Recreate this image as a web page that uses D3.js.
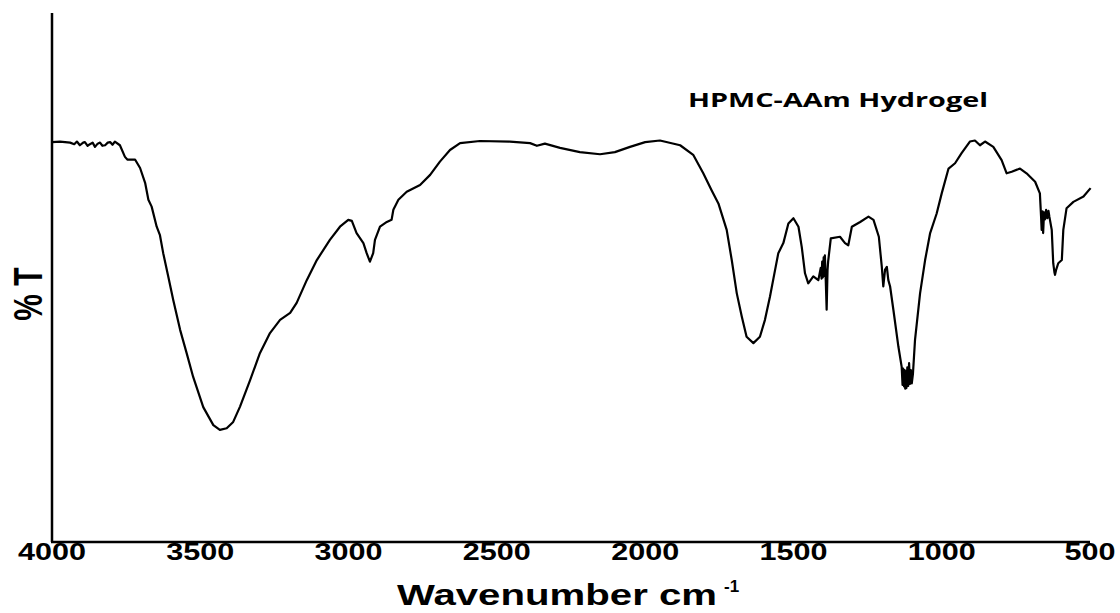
<!DOCTYPE html>
<html>
<head>
<meta charset="utf-8">
<script src="https://cdn.jsdelivr.net/npm/d3@7"></script>
<style>
  body { margin: 0; background: #fff; }
  svg { display: block; }
  .tick-label { font-family: "Liberation Sans", Arial, sans-serif; font-weight: bold; font-size: 23px; fill: #000; }
  .axis-title { font-family: "Liberation Sans", Arial, sans-serif; font-weight: bold; font-size: 30px; fill: #000; }
  .series-label { font-family: "Open Sans", sans-serif; font-weight: bold; font-size: 20px; fill: #000; }
</style>
</head>
<body>
<div id="chart"></div>
<script>
const width = 1120, height = 613;
const margin = { left: 52, right: 30, top: 13, bottom: 71 };

const seriesName = "HPMC-AAm Hydrogel";
const xTicks = [4000, 3500, 3000, 2500, 2000, 1500, 1000, 500];

// wavenumber (cm-1) and transmittance (%T, arbitrary scale)
const wavenumber = [
  4000, 3973, 3939, 3925, 3916, 3906, 3895, 3889, 3880, 3872, 3863, 3855, 3846, 3838, 3830, 3821,
  3812, 3804, 3796, 3788, 3771, 3754, 3746, 3720,
  3703, 3686, 3675, 3664, 3647, 3636, 3625, 3608, 3591, 3568, 3546, 3524, 3490, 3456, 3434, 3411,
  3389, 3366, 3332, 3299, 3265, 3231, 3197, 3175, 3141, 3107, 3063, 3029, 3001, 2989, 2973, 2950,
  2939, 2928, 2917, 2911, 2894, 2871, 2855, 2849, 2832, 2804, 2759, 2725, 2692, 2658, 2624, 2557,
  2456, 2388, 2365, 2338, 2287, 2220, 2152, 2102, 2051, 2000, 1950, 1882, 1838, 1804, 1776, 1753,
  1725, 1708, 1691, 1674, 1658, 1635, 1613, 1596, 1579, 1562, 1551, 1534, 1517, 1500, 1483, 1472,
  1461, 1450, 1433, 1416, 1408, 1405, 1403, 1401, 1398, 1396, 1394, 1391, 1388, 1385, 1383, 1374,
  1343, 1326, 1315, 1303, 1275, 1247,
  1230, 1212, 1202, 1197, 1191, 1185, 1180, 1174, 1163, 1146, 1135, 1132, 1130, 1127, 1125, 1123,
  1121, 1119, 1116, 1113, 1110, 1107, 1104, 1101, 1097, 1090,
  1073, 1056, 1039, 1017, 1000, 977, 955, 933, 905, 888, 871, 854, 826, 798, 781, 764,
  736, 714, 685, 669, 665, 663, 660, 658, 655, 652, 648, 644, 640, 637, 629, 624,
  620, 618, 614, 607, 595, 590, 579, 556,
  522, 498
];
const transmittance = [
  75.6, 75.7, 75.5, 75.2, 75.7, 75.0, 75.5, 75.6, 74.9, 75.2, 75.5, 74.7, 75.3, 75.5, 74.9, 75.0,
  75.5, 75.6, 75.1, 75.7, 75.0, 72.8, 72.3, 72.3,
  70.7, 67.9, 64.7, 63.4, 59.6, 58.0, 54.6, 50.2, 45.7, 40.1, 35.7, 31.2, 25.5, 22.1, 21.2, 21.5,
  22.7, 25.6, 30.6, 35.7, 39.5, 42.0, 43.3, 45.2, 49.5, 53.3, 57.1, 59.6, 60.9, 60.7, 58.4, 56.5,
  54.6, 53.0, 54.6, 57.1, 59.6, 60.5, 60.9, 62.8, 64.7, 66.2, 67.5, 69.4, 71.9, 74.1, 75.4, 75.8,
  75.7, 75.4, 74.9, 75.3, 74.5, 73.7, 73.3, 73.7, 74.7, 75.6, 75.9, 75.0, 73.2, 69.7, 66.5, 64.0,
  59.0, 53.3, 47.0, 42.6, 38.8, 37.6, 38.8, 42.0, 46.4, 51.4, 54.6, 56.5, 60.2, 61.2, 59.6, 55.8,
  50.8, 48.9, 50.2, 49.5, 51.8, 49.8, 53.0, 50.0, 53.8, 50.3, 54.2, 49.5, 43.9, 51.4, 53.0, 57.4,
  57.7, 56.5, 56.1, 59.6, 60.5, 61.5,
  60.9, 57.7, 52.0, 48.3, 51.5, 52.0, 49.5, 48.3, 43.9, 36.9, 33.1, 29.7, 32.8, 29.4, 32.5, 29.0,
  32.2, 29.1, 33.0, 29.5, 33.8, 29.9, 32.5, 30.0, 31.8, 38.2,
  47.0, 53.3, 58.4, 62.1, 65.9, 70.6, 71.6, 73.5, 75.7, 75.9, 75.0, 75.7, 74.7, 72.2, 69.7, 70.0,
  70.6, 69.7, 68.1, 65.9, 61.5, 59.0, 62.5, 58.4, 62.3, 61.0, 62.8, 61.2, 62.6, 61.5, 59.0, 52.7,
  51.0, 50.5, 51.5, 52.7, 53.3, 59.0, 63.1, 64.3,
  65.3, 66.9
];

const data = wavenumber.map((w, i) => ({ w, t: transmittance[i] }));

const xScale = d3.scaleLinear().domain([4000, 500]).range([margin.left, width - margin.right]);
const yScale = d3.scaleLinear().domain([0, 100]).range([height - margin.bottom, margin.top]);

const svg = d3.select("#chart")
  .append("svg")
  .attr("width", width)
  .attr("height", height)
  .attr("viewBox", `0 0 ${width} ${height}`);

const baseY = height - margin.bottom;

// axes lines
svg.append("line")
  .attr("x1", margin.left).attr("x2", margin.left)
  .attr("y1", margin.top).attr("y2", baseY)
  .attr("stroke", "#000").attr("stroke-width", 2.5);

svg.append("line")
  .attr("x1", margin.left - 1).attr("x2", width - margin.right)
  .attr("y1", baseY).attr("y2", baseY)
  .attr("stroke", "#000").attr("stroke-width", 2.5);

// tick labels (stretched like the source)
svg.selectAll(".tick-label")
  .data(xTicks)
  .join("text")
  .attr("class", "tick-label")
  .attr("text-anchor", "middle")
  .attr("x", d => xScale(d))
  .attr("y", baseY + 18)
  .attr("textLength", d => String(d).length * 17)
  .attr("lengthAdjust", "spacingAndGlyphs")
  .text(d => d);

// spectrum
const line = d3.line()
  .x(d => xScale(d.w))
  .y(d => yScale(d.t));

svg.append("path")
  .datum(data)
  .attr("fill", "none")
  .attr("stroke", "#000")
  .attr("stroke-width", 2.2)
  .attr("stroke-linejoin", "round")
  .attr("d", line);

// series label
svg.append("text")
  .attr("class", "series-label")
  .attr("x", 688)
  .attr("y", 107)
  .attr("textLength", 300)
  .attr("lengthAdjust", "spacingAndGlyphs")
  .text(seriesName);

// x title
const xt = svg.append("text")
  .attr("class", "axis-title")
  .attr("x", 397)
  .attr("y", 605);
xt.append("tspan")
  .attr("textLength", 320)
  .attr("lengthAdjust", "spacingAndGlyphs")
  .text("Wavenumber cm");
xt.append("tspan")
  .attr("dx", 7)
  .attr("dy", -13)
  .attr("font-size", 17)
  .text("-1");

// y title
svg.append("text")
  .attr("class", "axis-title")
  .attr("text-anchor", "middle")
  .attr("transform", "translate(42,294) scale(1.35,1) rotate(-90)")
  .text("% T");
</script>
</body>
</html>
